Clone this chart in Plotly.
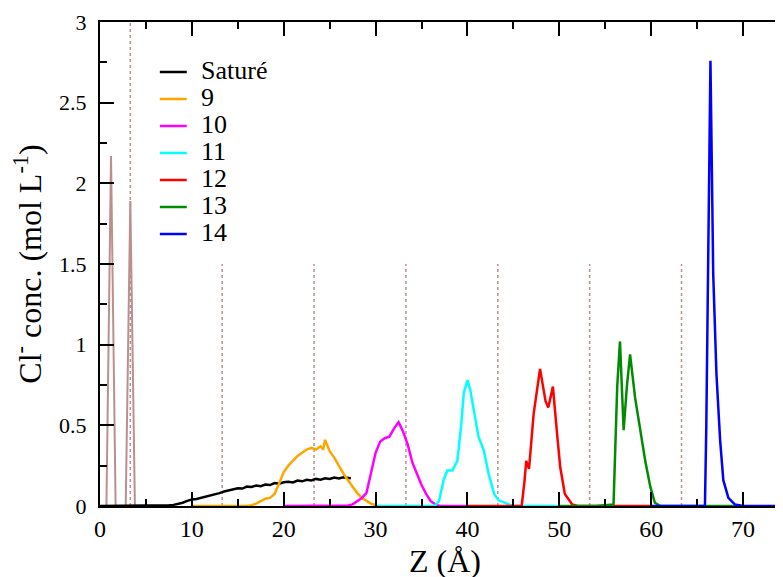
import plotly.graph_objects as go

# ---------------- data ----------------
# Saturé (black)
z_sat = [0, 2, 4, 6, 7, 7.5, 8, 8.5, 9, 9.5, 10, 10.5, 11, 11.5, 12, 12.5, 13, 13.5, 14, 14.5,
         15, 15.5, 16, 16.5, 17, 17.5, 18, 18.5, 19, 19.5, 20, 20.5, 21, 21.5, 22, 22.5,
         23, 23.5, 24, 24.5, 25, 25.5, 26, 26.5, 27, 27.3]
c_sat = [0, 0, 0, 0, 0.002, 0.004, 0.007, 0.012, 0.02, 0.032, 0.04, 0.043, 0.05, 0.058, 0.066, 0.072,
         0.08, 0.09, 0.097, 0.1, 0.11, 0.108, 0.12, 0.118, 0.127, 0.123, 0.133, 0.13, 0.142, 0.138,
         0.147, 0.15, 0.146, 0.158, 0.153, 0.162, 0.158, 0.168, 0.163, 0.172, 0.168, 0.176, 0.171,
         0.178, 0.174, 0.172]

# 9 (orange)
z_9 = [10, 12, 14, 16, 16.5, 17, 17.5, 18, 18.5, 19, 19.5, 20, 20.5, 21, 21.5, 22, 22.5, 23,
       23.5, 24, 24.3, 24.5, 24.8, 25, 25.5, 26, 26.5, 27, 27.5, 28, 28.5, 29, 29.5, 30]
c_9 = [0, 0, 0, 0, 0.005, 0.015, 0.03, 0.045, 0.05, 0.075, 0.14, 0.21, 0.25, 0.28, 0.31, 0.33,
       0.35, 0.36, 0.35, 0.37, 0.35, 0.41, 0.36, 0.34, 0.3, 0.25, 0.2, 0.16, 0.12, 0.08, 0.05,
       0.03, 0.015, 0.005]

# 10 (magenta)
z_10 = [20, 24, 26, 27, 27.5, 28, 28.5, 29, 29.5, 30, 30.5, 31, 31.5, 32, 32.5, 33, 33.5, 34,
        34.5, 35, 35.5, 36, 36.5, 37, 38, 40]
c_10 = [0, 0, 0, 0.003, 0.01, 0.03, 0.05, 0.08, 0.2, 0.33, 0.4, 0.42, 0.43, 0.48, 0.52, 0.46,
        0.38, 0.27, 0.2, 0.13, 0.075, 0.03, 0.01, 0, 0, 0]

# 11 (cyan)
z_11 = [30, 34, 36, 36.4, 36.9, 37.4, 37.8, 38.35, 38.9, 39.3, 39.6, 40.0, 40.3, 40.7, 41.2,
        41.8, 42.3, 42.9, 43.4, 44.5, 45, 47, 50]
c_11 = [0, 0, 0, 0, 0.03, 0.16, 0.22, 0.22, 0.28, 0.49, 0.7, 0.78, 0.72, 0.59, 0.43, 0.34,
        0.2, 0.075, 0.035, 0.01, 0, 0, 0]

# 12 (red)
z_12 = [40, 44, 45.9, 46.2, 46.4, 46.7, 47.2, 47.9, 48.5, 48.8, 49.3, 49.75, 50.1, 50.6,
        51.4, 52, 55, 60]
c_12 = [0, 0, 0, 0.15, 0.28, 0.23, 0.57, 0.85, 0.65, 0.61, 0.74, 0.45, 0.24, 0.075,
        0.01, 0, 0, 0]

# 13 (green)
z_13 = [50, 54, 55.9, 56.3, 56.6, 57.0, 57.35, 57.7, 58.25, 58.8, 59.35, 59.9, 60.4, 61,
        65, 70]
c_13 = [0, 0, 0.01, 0.74, 1.02, 0.47, 0.74, 0.94, 0.67, 0.47, 0.28, 0.12, 0.02, 0, 0, 0]

# 14 (blue)
z_14 = [60, 64, 65.85, 66.0, 66.2, 66.45, 66.75, 67.1, 67.5, 67.85, 68.4, 69.1, 70, 75, 80]
c_14 = [0, 0, 0, 0.5, 1.6, 2.76, 1.44, 0.82, 0.41, 0.16, 0.05, 0.01, 0, 0, 0]

# brown reference peaks
z_ref = [0, 0.7, 1.2, 1.7, 2.8, 3.3, 3.8, 4.5]
c_ref = [0, 0, 2.17, 0, 0, 1.89, 0, 0]

# dotted vertical guides
guide_z = [3.3, 13.3, 23.3, 33.3, 43.3, 53.3, 63.3]
guide_top = [3.0, 1.5, 1.5, 1.5, 1.5, 1.5, 1.5]

series_names = ["Saturé", "9", "10", "11", "12", "13", "14"]
series_colors = ["#000000", "#ffa500", "#ff00ff", "#00ffff", "#ff0000", "#008b00", "#0000ff"]
series_z = [z_sat, z_9, z_10, z_11, z_12, z_13, z_14]
series_c = [c_sat, c_9, c_10, c_11, c_12, c_13, c_14]

x_ticks = [0, 10, 20, 30, 40, 50, 60, 70]
y_ticks = [0, 0.5, 1, 1.5, 2, 2.5, 3]
y_tick_text = ["0", "0.5", "1", "1.5", "2", "2.5", "3"]

FONT = "Liberation Serif"
BROWN = "#bc8f8f"

# plot-area geometry (pixels)
PLOT_W, PLOT_H = 691, 484
LEG_LINE_X0, LEG_LINE_X1, LEG_TEXT_X = 60, 87, 100     # px from plot left
LEG_Y0, LEG_DY = 50, 27                                 # px from plot top

fig = go.Figure()

gx, gy = [], []
for zx, top in zip(guide_z, guide_top):
    gx += [zx, zx, None]
    gy += [0, top, None]
fig.add_trace(go.Scatter(x=gx, y=gy, mode="lines", showlegend=False, hoverinfo="skip",
                         line=dict(color=BROWN, width=1.5, dash="dot")))

fig.add_trace(go.Scatter(x=z_ref, y=c_ref, mode="lines", showlegend=False,
                         line=dict(color=BROWN, width=2)))

for name, col, zz, cc in zip(series_names, series_colors, series_z, series_c):
    fig.add_trace(go.Scatter(x=zz, y=cc, mode="lines", name=name, showlegend=False,
                             line=dict(color=col, width=2.5)))

# hand-placed legend (tight line spacing like the original)
for i, (name, col) in enumerate(zip(series_names, series_colors)):
    yp = 1 - (LEG_Y0 + i * LEG_DY) / PLOT_H
    fig.add_shape(type="line", xref="paper", yref="paper",
                  x0=LEG_LINE_X0 / PLOT_W, x1=LEG_LINE_X1 / PLOT_W, y0=yp, y1=yp,
                  line=dict(color=col, width=2.5))
    fig.add_annotation(xref="paper", yref="paper", x=LEG_TEXT_X / PLOT_W,
                       y=yp + 1.5 / PLOT_H, xanchor="left", yanchor="middle",
                       text=name, showarrow=False, borderpad=0,
                       font=dict(family=FONT, size=26, color="black"))

# x-axis title placed as text below the tick labels
fig.add_annotation(xref="paper", yref="paper", x=0.5, y=-55 / PLOT_H,
                   xanchor="center", yanchor="middle", showarrow=False, borderpad=0,
                   text="Z (Å)", font=dict(family=FONT, size=32, color="black"))

fig.update_layout(
    width=783, height=577,
    margin=dict(l=92, r=0, t=14, b=79),
    paper_bgcolor="white", plot_bgcolor="white",
    font=dict(family=FONT, size=22, color="black"),
    showlegend=False,
    xaxis=dict(range=[0, 75], tickvals=x_ticks, ticks="inside", ticklen=14, tickwidth=2,
               tickcolor="black", showline=True, linecolor="black", linewidth=2,
               mirror="ticks", showgrid=False, zeroline=False,
               minor=dict(dtick=5, tick0=0, ticks="inside", ticklen=7, tickwidth=2,
                          tickcolor="black", showgrid=False),
               tickfont=dict(family=FONT, size=24, color="black")),
    yaxis=dict(range=[0, 3], tickvals=y_ticks, ticktext=y_tick_text, ticks="inside",
               ticklen=14, tickwidth=2, tickcolor="black", showline=True, linecolor="black",
               linewidth=2, mirror="ticks", showgrid=False, zeroline=False,
               ticklabelstandoff=7,
               minor=dict(dtick=0.25, tick0=0, ticks="inside", ticklen=7, tickwidth=2,
                          tickcolor="black", showgrid=False),
               tickfont=dict(family=FONT, size=22, color="black"),
               title=dict(text="Cl<sup>-</sup> conc. (mol L<sup>-1</sup>)",
                          font=dict(family=FONT, size=32, color="black"), standoff=8)),
)

fig.write_html("out.html")
